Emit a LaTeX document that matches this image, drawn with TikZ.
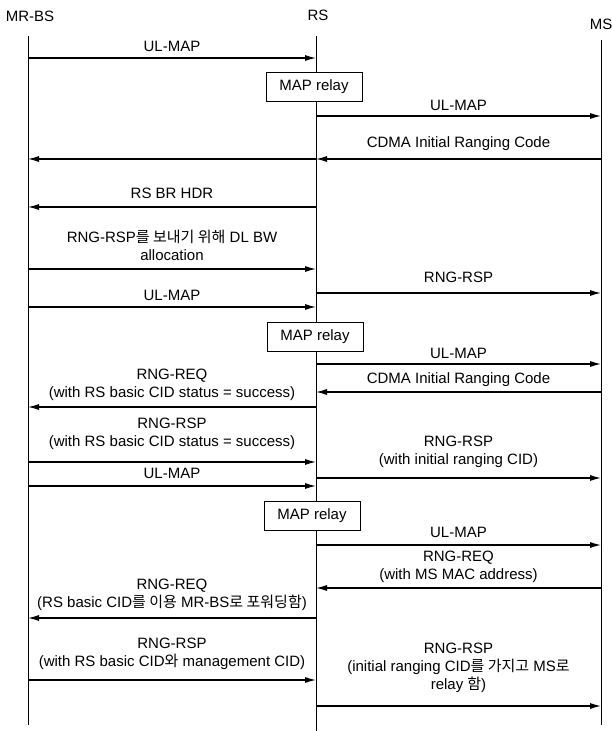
\documentclass[tikz,border=0pt]{standalone}
\usepackage{fontspec}
\setmainfont{Liberation Sans}
\newfontfamily\krfont{Noto Sans CJK KR}
\newcommand{\kr}[1]{{\krfont #1}}
\usetikzlibrary{arrows.meta}

\begin{document}
\begin{tikzpicture}[
    x=1pt, y=1pt,
    every node/.style={font=\fontsize{15}{18}\selectfont, align=center, inner sep=0pt},
    head/.style={},                                          % Style for the entity names
    life/.style={line width=0.9pt},                          % Style for the lifelines
    msg/.style={line width=1.2pt, -{Latex[length=11pt,width=6pt]}}, % Style for the messages
    relay/.style={draw, line width=0.9pt, fill=white, minimum width=96pt, minimum height=29pt}, % Style for the relay boxes
    lbl/.style={midway}                                      % Style for the message labels
    ]

    \useasboundingbox (0,0) rectangle (611,-731);

    % Entity names and lifelines
    \node[head] (bs) at (30,-16) {MR-BS};
    \node[head] (rs) at (318,-15) {RS};
    \node[head] (ms) at (601,-24) {MS};

    \coordinate (bstop) at (28,-36);   \coordinate (bsend) at (28,-725);
    \coordinate (rstop) at (316,-36);  \coordinate (rsend) at (316,-731);
    \coordinate (mstop) at (601,-40);  \coordinate (msend) at (601,-725);

    \draw[life] (bstop) -- (bsend);
    \draw[life] (rstop) -- (rsend);
    \draw[life] (mstop) -- (msend);

    % Points on the lifelines for every message
    \foreach \n/\y in {1/58, 2/116, 3/159, 4/207, 5/269, 6/293, 7/307, 8/364, 9/392,
                       10/407, 11/462, 12/478, 13/486, 14/545, 15/588, 16/618, 17/680, 18/706} {
        \coordinate (bs\n) at (28,-\y);
        \coordinate (rs\n) at (316,-\y);
        \coordinate (ms\n) at (601,-\y);
    }

    % Relay boxes on the RS lifeline
    \node[relay] (relay1) at (314,-87) {MAP relay};
    \node[relay] (relay2) at (315,-337) {MAP relay};
    \node[relay] (relay3) at (312,-516) {MAP relay};

    % First UL-MAP and ranging code
    \draw[msg] (bs1) -- node[lbl, yshift=12pt] (l1) {UL-MAP} (rs1);
    \draw[msg] (rs2) -- node[lbl, yshift=11pt] (l2) {UL-MAP} (ms2);
    \draw[msg] (ms3) -- node[lbl, yshift=15pt] (l3) {CDMA Initial Ranging Code} (rs3);
    \draw[msg] (rs3) -- (bs3);
    \draw[msg] (rs4) -- node[lbl, yshift=14pt] (l4) {RS BR HDR} (bs4);

    % Bandwidth allocation and first response
    \draw[msg] (bs5) -- node[lbl, yshift=24pt] (l5) {RNG-RSP\kr{를 보내기 위해} DL BW\\allocation} (rs5);
    \draw[msg] (rs6) -- node[lbl, yshift=16pt] (l6) {RNG-RSP} (ms6);
    \draw[msg] (bs7) -- node[lbl, yshift=12pt] (l7) {UL-MAP} (rs7);

    % Second round
    \draw[msg] (rs8) -- node[lbl, yshift=11pt] (l8) {UL-MAP} (ms8);
    \draw[msg] (ms9) -- node[lbl, yshift=12pt] (l9) {CDMA Initial Ranging Code} (rs9);
    \draw[msg] (rs10) -- node[lbl, yshift=22pt] (l10) {RNG-REQ\\(with RS basic CID status = success)} (bs10);
    \draw[msg] (bs11) -- node[lbl, yshift=28pt] (l11) {RNG-RSP\\(with RS basic CID status = success)} (rs11);
    \draw[msg] (rs12) -- node[lbl, yshift=26pt] (l12) {RNG-RSP\\(with initial ranging CID)} (ms12);
    \draw[msg] (bs13) -- node[lbl, yshift=13pt] (l13) {UL-MAP} (rs13);

    % Third round
    \draw[msg] (rs14) -- node[lbl, yshift=13pt] (l14) {UL-MAP} (ms14);
    \draw[msg] (ms15) -- node[lbl, yshift=21pt] (l15) {RNG-REQ\\(with MS MAC address)} (rs15);
    \draw[msg] (rs16) -- node[lbl, yshift=23pt] (l16) {RNG-REQ\\(RS basic CID\kr{를 이용} MR-BS\kr{로 포워딩함})} (bs16);
    \draw[msg] (bs17) -- node[lbl, yshift=26pt] (l17) {RNG-RSP\\(with RS basic CID\kr{와} management CID)} (rs17);
    \draw[msg] (rs18) -- node[lbl, yshift=38pt] (l18) {RNG-RSP\\(initial ranging CID\kr{를 가지고} MS\kr{로}\\relay \kr{함})} (ms18);

\end{tikzpicture}
\end{document}
